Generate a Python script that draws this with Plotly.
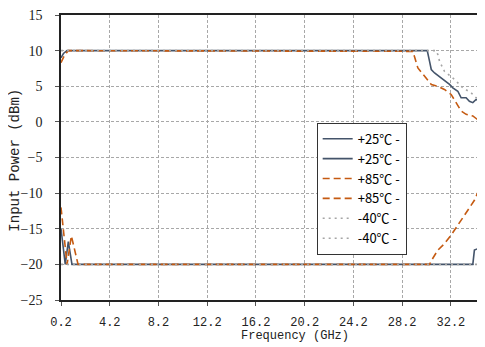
import plotly.graph_objects as go

# ---- data ----
freq_25_hi = [0.2, 0.4, 0.7, 30.26, 30.45, 30.59, 30.86, 31.4, 32.09, 32.36, 32.77, 33.04, 33.45, 33.72, 34.0, 34.27, 34.54, 34.8, 35.0]
p_25_hi = [9.0, 9.6, 10, 10, 8.5, 7.35, 6.87, 6.17, 5.25, 4.78, 4.3, 3.38, 3.38, 2.9, 2.7, 3.15, 2.9, 3.4, 3.6]

freq_25_lo = [0.2, 0.55, 0.8, 1.1, 34.0, 34.13, 34.4, 34.68, 34.8, 35.0]
p_25_lo = [-15, -20, -16.8, -20, -20, -18.0, -17.8, -17.55, -16.9, -16.2]

freq_85_hi = [0.2, 0.5, 0.8, 28.95, 29.08, 29.49, 30.04, 30.59, 31.13, 31.67, 32.22, 32.63, 33.04, 33.45, 34.0, 34.54, 34.8, 35.0]
p_85_hi = [8.3, 9.4, 10, 10, 9.9, 7.57, 6.4, 5.25, 5.0, 4.55, 3.85, 2.68, 1.52, 1.06, 0.83, 0.13, -0.1, -0.2]

freq_85_lo = [0.2, 0.7, 1.05, 1.6, 30.45, 30.59, 31.13, 31.67, 32.22, 32.63, 33.04, 33.59, 34.13, 34.54, 35.0]
p_85_lo = [-12, -20, -16.0, -20, -20, -19.5, -18.0, -17.1, -15.9, -14.8, -13.8, -12.4, -11.0, -9.4, -7.9]

freq_40_hi = [0.2, 30.99, 31.13, 31.27, 31.67, 32.5, 33.18, 33.86, 34.27, 35.0]
p_40_hi = [10, 10, 9.44, 8.5, 7.1, 5.95, 4.78, 4.08, 3.38, 3.4]

freq_40_lo = [0.2, 35.0]
p_40_lo = [-20, -20]

x_ticks = [0.2, 4.2, 8.2, 12.2, 16.2, 20.2, 24.2, 28.2, 32.2]
x_tick_labels = ["0.2", "4.2", "8.2", "12.2", "16.2", "20.2", "24.2", "28.2", "32.2"]
y_ticks = [-25, -20, -15, -10, -5, 0, 5, 10, 15]

series = [
    ("+25℃ -", freq_25_hi, p_25_hi, "#44546A", "solid"),
    ("+25℃ -", freq_25_lo, p_25_lo, "#44546A", "solid"),
    ("+85℃ -", freq_85_hi, p_85_hi, "#C55A11", "7px,4px"),
    ("+85℃ -", freq_85_lo, p_85_lo, "#C55A11", "7px,4px"),
    ("-40℃ -", freq_40_hi, p_40_hi, "#A5A5A5", "2px,4px"),
    ("-40℃ -", freq_40_lo, p_40_lo, "#A5A5A5", "2px,4px"),
]

fig = go.Figure()
for name, xs, ys, color, dash in series:
    fig.add_trace(go.Scatter(
        x=xs, y=ys, mode="lines", name=name,
        line=dict(color=color, width=1.6, dash=dash),
    ))

mono = "Liberation Mono"
grid_col = "#A8A8A8"

# page body has an 8px default margin; compensate so the plot sits where the reference has it
fig.update_layout(
    width=477, height=339,
    margin=dict(l=53, r=0, t=5, b=47),
    paper_bgcolor="white", plot_bgcolor="white",
    showlegend=True,
    legend=dict(
        x=0.603, y=0.622, xanchor="left", yanchor="top",
        bgcolor="white", bordercolor="#333333", borderwidth=1,
        font=dict(family="Noto Sans CJK SC", size=13, color="black"),
        tracegroupgap=0,
    ),
    annotations=[
        dict(
            text="Frequency (GHz)", xref="paper", yref="paper",
            x=0.552, y=0, yshift=-36, xanchor="center", yanchor="middle",
            showarrow=False, font=dict(family=mono, size=12, color="#222"),
        ),
        dict(
            text="Input Power (dBm)", xref="paper", yref="paper",
            x=0, xshift=-46, y=0.489, xanchor="center", yanchor="middle",
            textangle=-90, showarrow=False, font=dict(family=mono, size=14, color="#222"),
        ),
    ],
)

fig.update_xaxes(
    range=[0.2, 35], tickmode="array", tickvals=x_ticks, ticktext=x_tick_labels,
    showgrid=True, gridcolor=grid_col, griddash="3px,2px", gridwidth=1,
    showline=True, linecolor="#222", linewidth=1.5, mirror=True,
    ticks="outside", ticklen=4, tickcolor="#555",
    ticklabelstandoff=6, ticklabeloverflow="allow",
    tickfont=dict(family=mono, size=12, color="#222"),
    zeroline=False,
)
fig.update_yaxes(
    range=[-25, 15], tickmode="array", tickvals=y_ticks,
    showgrid=True, gridcolor=grid_col, griddash="3px,2px", gridwidth=1,
    showline=True, linecolor="#222", linewidth=1.5,
    ticks="outside", ticklen=4, tickcolor="#555",
    ticklabelstandoff=10, ticklabeloverflow="allow",
    tickfont=dict(family="Liberation Serif", size=14, color="#222"),
    zeroline=False,
)

fig.write_html("out.html")
